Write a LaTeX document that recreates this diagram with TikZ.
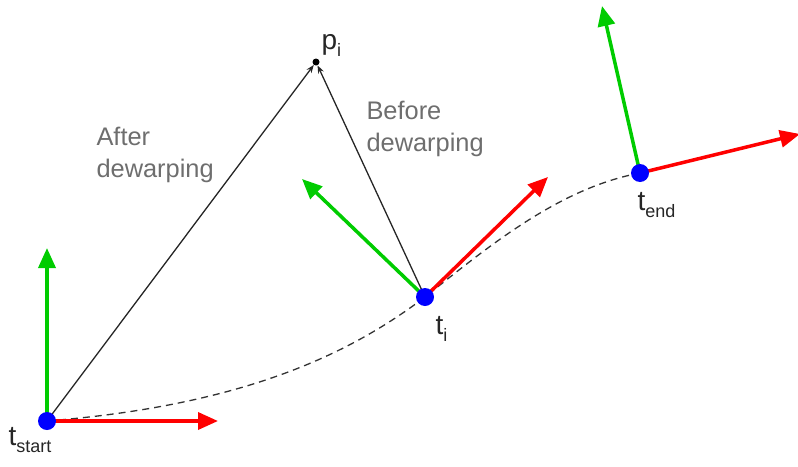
\documentclass[tikz,border=0pt]{standalone}
\usepackage{fontspec}
\setmainfont{Liberation Sans}
\usetikzlibrary{arrows.meta}

\definecolor{axred}{RGB}{255,0,0}
\definecolor{axgreen}{RGB}{0,204,0}
\definecolor{labelgray}{RGB}{110,110,110}
\tikzset{
  pose/.style={circle, fill=blue, inner sep=0pt, minimum size=18pt},
  xaxis/.style={axred, line width=3.5pt, -{Triangle[length=20pt,width=17pt]}},
  yaxis/.style={axgreen, line width=3.5pt, -{Triangle[length=20pt,width=17pt]}},
  ray/.style={black!85, line width=1.3pt, -{Stealth[length=8pt,width=6pt]}},
  tlabel/.style={font=\fontsize{28}{28}\selectfont, text=black!85},
  note/.style={font=\fontsize{25.4}{32}\selectfont, text=labelgray, align=left, anchor=north west}
}
\newcommand{\sub}[1]{\raisebox{-0.45ex}{\fontsize{18}{18}\selectfont #1}}

\begin{document}
\begin{tikzpicture}[x=1pt, y=-1pt]
  \useasboundingbox (0,0) rectangle (798,466);
  % trajectory
  \coordinate (s) at (47,421); \coordinate (i) at (425,297); \coordinate (e) at (640,173);
  \draw[black!80, line width=1.3pt, dash pattern=on 7pt off 5pt]
    (s) .. controls (250,405) and (355,350) .. (i) .. controls (490,245) and (560,188) .. (e);
  \node[circle, fill=black, inner sep=0pt, minimum size=7pt] (pi) at (316,62) {};
  \node[tlabel, anchor=south west] at (318,60) {p\sub{i}};
  % frames
  \coordinate (sx) at (218,421); \coordinate (sy) at (47,248);
  \coordinate (ix) at (548,177); \coordinate (iy) at (302,179);
  \coordinate (ex) at (800,134); \coordinate (ey) at (602,6);
  \draw[yaxis] (s) -- (sy);
  \draw[ray] (s) -- (pi);
  \draw[xaxis] (s) -- (sx);
  \draw[yaxis] (i) -- (iy);
  \draw[ray] (i) -- (pi);
  \draw[xaxis] (i) -- (ix);
  \draw[yaxis] (e) -- (ey);
  \draw[xaxis] (e) -- (ex);
  \node[pose] (tstart) at (s) {};
  \node[pose] (ti) at (i) {};
  \node[pose] (tend) at (e) {};
  \node[tlabel, anchor=north west] at (5,424) {t\sub{start}};
  \node[tlabel, anchor=north west] at (432,313) {t\sub{i}};
  \node[tlabel, anchor=north west] at (634,189) {t\sub{end}};
  \node[note] at (93,124) {After\\dewarping};
  \node[note] at (363,98) {Before\\dewarping};
\end{tikzpicture}
\end{document}
